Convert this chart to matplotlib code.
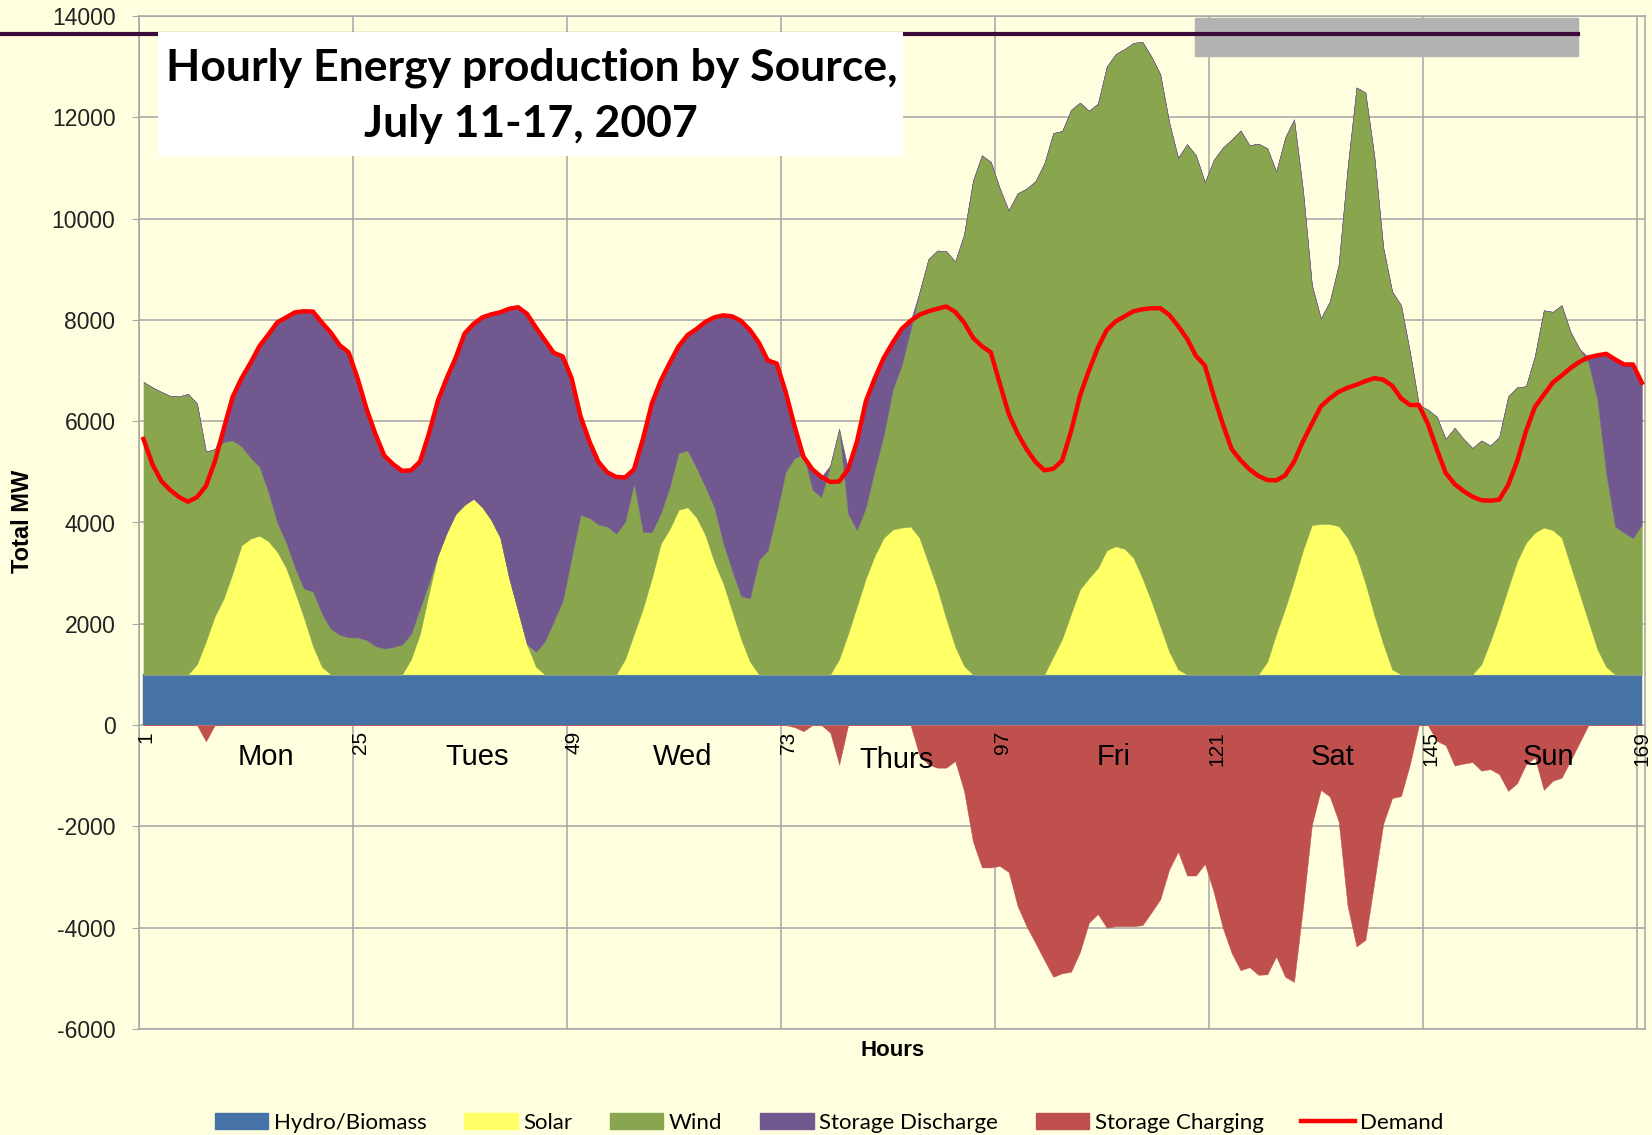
import matplotlib.pyplot as plt
from matplotlib.patches import Patch, Rectangle
from matplotlib.lines import Line2D

plt.rcParams['font.family'] = ['Liberation Sans', 'DejaVu Sans']
plt.rcParams['axes.unicode_minus'] = False

# hour index 1..169 (July 11-17, 2007)
hours = list(range(1, 170))

hydro = [1000] * 169

solar = [0, 0, 0, 0, 0, 0, 200, 650, 1150, 1500, 2000, 2550, 2680, 2740, 2630, 2420, 2100, 1620, 1115, 560, 150, 0, 0, 0,
         0, 0, 0, 0, 0, 0, 300, 800, 1600, 2350, 2800, 3170, 3350, 3470, 3300, 3050, 2700, 1900, 1250, 590, 150, 0, 0, 0,
         0, 0, 0, 0, 0, 0, 300, 800, 1300, 1900, 2580, 2870, 3250, 3300, 3100, 2750, 2220, 1800, 1250, 700, 250, 0, 0, 0,
         0, 0, 0, 0, 0, 0, 300, 800, 1350, 1900, 2350, 2700, 2860, 2900, 2920, 2700, 2200, 1700, 1100, 550, 170, 0, 0, 0,
         0, 0, 0, 0, 0, 0, 350, 700, 1200, 1680, 1900, 2100, 2450, 2530, 2480, 2300, 1900, 1450, 950, 450, 100, 0, 0, 0,
         0, 0, 0, 0, 0, 0, 250, 800, 1300, 1850, 2450, 2950, 2970, 2970, 2930, 2700, 2340, 1800, 1170, 600, 100, 0, 0, 0,
         0, 0, 0, 0, 0, 0, 200, 650, 1150, 1700, 2230, 2600, 2800, 2900, 2850, 2700, 2150, 1600, 1050, 500, 150, 0, 0, 0,
         0]

wind = [5775, 5670, 5580, 5500, 5490, 5540, 5150, 3750, 3300, 3090, 2620, 1950, 1600, 1360, 970, 580, 500, 480, 575, 1080, 1050, 900, 780, 732,
        730, 680, 560, 510, 540, 590, 500, 500, 200, 0, 0, 0, 0, 0, 0, 0, 0, 0, 0, 0, 300, 650, 1050, 1450,
        2300, 3150, 3090, 2960, 2920, 2780, 2710, 2970, 1510, 910, 600, 830, 1120, 1120, 980, 950, 1080, 800, 800, 850, 1250, 2260, 2450, 3200,
        4000, 4270, 4350, 3650, 3500, 4130, 4550, 2370, 1500, 1400, 1700, 2020, 2760, 3200, 3880, 4850, 6000, 6670, 7260, 7600, 8520, 9750, 10250, 10120,
        9600, 9160, 9500, 9590, 9740, 10090, 10340, 10030, 9950, 9610, 9230, 9170, 9550, 9720, 9870, 10170, 10590, 10750, 10900, 10450, 10100, 10470, 10250, 9720,
        10160, 10400, 10560, 10740, 10450, 10480, 10140, 9130, 9300, 9110, 7110, 4740, 4060, 4390, 5160, 7300, 9250, 9690, 9060, 7830, 7460, 7290, 6360, 5320,
        5230, 5090, 4650, 4870, 4650, 4470, 4420, 3870, 3540, 3790, 3440, 3090, 3490, 4290, 4310, 4590, 4610, 4830, 5110, 4930, 3810, 2920, 2800, 2690,
        2960]

discharge = [0, 0, 0, 0, 0, 0, 0, 0, 0, 260, 860, 1350, 1870, 2380, 3110, 3950, 4450, 5050, 5480, 5525, 5750, 5850, 5720, 5630,
             5120, 4570, 4190, 3810, 3610, 3430, 3230, 2900, 2950, 3050, 3050, 3080, 3380, 3450, 3750, 4060, 4450, 5320, 6000, 6530, 6400, 5950, 5300, 4830,
             3550, 1950, 1510, 1240, 1070, 1120, 880, 280, 1840, 2540, 2620, 2450, 2110, 2280, 2740, 3260, 3750, 4490, 5020, 5430, 5300, 4290, 3750, 2940,
             1580, 630, 0, 400, 400, 0, 0, 880, 1750, 2100, 1800, 1530, 930, 720, 180, 0, 0, 0, 0, 0, 0, 0, 0, 0,
             0, 0, 0, 0, 0, 0, 0, 0, 0, 0, 0, 0, 0, 0, 0, 0, 0, 0, 0, 0, 0, 0, 0, 0,
             0, 0, 0, 0, 0, 0, 0, 0, 0, 0, 0, 0, 0, 0, 0, 0, 0, 0, 0, 0, 0, 0, 0, 0,
             0, 0, 0, 0, 0, 0, 0, 0, 0, 0, 0, 0, 0, 0, 0, 0, 0, 0, 100, 870, 2370, 3300, 3320, 3430,
             2800]

charging = [0, 0, 0, 0, 0, 0, 0, -320, 0, 0, 0, 0, 0, 0, 0, 0, 0, 0, 0, 0, 0, 0, 0, 0,
            0, 0, 0, 0, 0, 0, 0, 0, 0, 0, 0, 0, 0, 0, 0, 0, 0, 0, 0, 0, 0, 0, 0, 0,
            0, 0, 0, 0, 0, 0, 0, 0, 0, 0, 0, 0, 0, 0, 0, 0, 0, 0, 0, 0, 0, 0, 0, 0,
            0, -40, -120, 0, 0, -150, -780, 0, 0, 0, 0, 0, 0, 0, 0, -600, -780, -840, -840, -710, -1300, -2300, -2810, -2810,
            -2780, -2900, -3570, -3970, -4300, -4640, -4970, -4900, -4870, -4480, -3900, -3730, -4000, -3970, -3970, -3970, -3950, -3700, -3440, -2850, -2500, -2970, -2970, -2740,
            -3300, -4000, -4500, -4840, -4780, -4930, -4920, -4570, -4970, -5070, -3600, -1970, -1280, -1410, -1900, -3570, -4370, -4240, -3100, -1950, -1440, -1400, -770, 0,
            0, -310, -400, -800, -760, -730, -900, -870, -970, -1300, -1150, -780, -640, -1280, -1100, -1040, -700, -350, 0, 0, 0, 0, 0, 0,
            0]

demand = [5650, 5150, 4820, 4640, 4500, 4410, 4500, 4720, 5200, 5850, 6480, 6850, 7150, 7480, 7710, 7950, 8050, 8150, 8170, 8165, 7950, 7750, 7500, 7360,
          6850, 6250, 5750, 5320, 5150, 5020, 5030, 5200, 5750, 6400, 6850, 7250, 7730, 7920, 8050, 8110, 8150, 8220, 8250, 8120, 7850, 7600, 7350, 7280,
          6850, 6100, 5600, 5200, 4990, 4900, 4890, 5050, 5650, 6350, 6800, 7150, 7480, 7700, 7820, 7960, 8050, 8090, 8070, 7980, 7800, 7550, 7200, 7140,
          6580, 5900, 5300, 5050, 4900, 4800, 4810, 5050, 5600, 6400, 6850, 7250, 7550, 7820, 7980, 8100, 8170, 8220, 8265, 8160, 7950, 7650, 7480, 7360,
          6750, 6150, 5760, 5450, 5200, 5030, 5060, 5220, 5800, 6500, 7000, 7450, 7800, 7970, 8070, 8170, 8210, 8230, 8230, 8100, 7880, 7630, 7290, 7100,
          6500, 5950, 5450, 5230, 5050, 4920, 4840, 4830, 4930, 5200, 5600, 5950, 6290, 6450, 6580, 6660, 6720, 6790, 6850, 6820, 6700, 6450, 6320, 6320,
          5950, 5450, 4980, 4760, 4620, 4510, 4440, 4430, 4450, 4740, 5200, 5800, 6280, 6520, 6760, 6900, 7050, 7170, 7260, 7300, 7330, 7220, 7120, 7120,
          6760]

hour_labels = [1, 25, 49, 73, 97, 121, 145, 169]
day_names = ['Mon', 'Tues', 'Wed', 'Thurs', 'Fri', 'Sat', 'Sun']
day_pos = [14.7, 38.4, 61.5, 85.4, 109.8, 134.3, 158.5]

colors = ['#4572A7', '#FFFF66', '#89A54E', '#71588F']
charge_color = '#C0504D'
bg = '#FFFFE0'

W, H = 1652, 1135
fig = plt.figure(figsize=(W / 100, H / 100), dpi=100)
fig.set_facecolor(bg)
ax = fig.add_axes([139 / W, 1 - 1029 / H, 1506 / W, 1013 / H])
ax.set_facecolor(bg)

ax.stackplot(hours, hydro, solar, wind, discharge, colors=colors, linewidth=0.3,
             edgecolor='face', zorder=2)
ax.fill_between(hours, charging, 0, color=charge_color, linewidth=0.3, zorder=2)
ax.plot(hours, demand, color='#FF0000', lw=3.2, zorder=3, solid_joinstyle='round')

ax.set_xlim(0.5, 169.35)
ax.set_ylim(-6000, 14000)
ax.set_yticks(range(-6000, 14001, 2000))
ax.set_xticks([h - 0.5 for h in hour_labels])
ax.set_xticklabels([])
ax.grid(True, color='#A6A6A6', lw=1.1, zorder=0)
ax.set_axisbelow(True)
ax.tick_params(axis='x', length=0)
ax.tick_params(axis='y', length=5, color='#A6A6A6', labelsize=16.5,
               labelcolor='#222222', pad=12)
for s in ax.spines.values():
    s.set_color('#A6A6A6')
    s.set_linewidth(1.1)

for h in hour_labels:
    ax.text(min(h + 0.3, 169.0), -120, str(h), rotation=90, ha='center', va='top',
            fontsize=15, color='black', zorder=4)
for name, x in zip(day_names, day_pos):
    ax.text(x, -680 if name == 'Thurs' else -620, name, ha='center', va='center',
            fontsize=21, color='black', zorder=4)

fig.text(23 / W, 1 - 521 / H, 'Total MW', rotation=90, ha='center', va='center',
         fontsize=17, fontweight='bold')
fig.text(893 / W, 1 - 1050 / H, 'Hours', ha='center', va='center',
         fontsize=16, fontweight='bold')

# slide decorations at the top
fig.add_artist(Rectangle((1195 / W, 1 - 56 / H), 383 / W, 38 / H,
                         transform=fig.transFigure, color='#B2B2B2', zorder=5))
fig.add_artist(Line2D([0, 1578 / W], [1 - 34 / H] * 2, transform=fig.transFigure,
                      color='#3B0B3B', lw=3, zorder=5))
fig.add_artist(Rectangle((158 / W, 1 - 156 / H), 745 / W, 124 / H,
                         transform=fig.transFigure, facecolor='white',
                         edgecolor='none', zorder=6))
fig.text(532 / W, 1 - 80 / H, 'Hourly Energy production by Source,', ha='center',
         va='baseline', fontsize=32, fontweight='bold', family='Lato', zorder=7)
fig.text(531 / W, 1 - 137 / H, 'July 11-17, 2007', ha='center', va='baseline',
         fontsize=32, fontweight='bold', family='Lato', zorder=7)

handles = [Patch(color=colors[0]), Patch(color=colors[1]), Patch(color=colors[2]),
           Patch(color=colors[3]), Patch(color=charge_color),
           Line2D([], [], color='#FF0000', lw=3.2)]
labels = ['Hydro/Biomass', 'Solar', 'Wind', 'Storage Discharge', 'Storage Charging', 'Demand']
fig.legend(handles, labels, loc='center', bbox_to_anchor=(0.502, 1 - 1123 / H), ncol=6,
           frameon=False, prop={'family': 'Lato', 'size': 16}, handlelength=2.4,
           handleheight=0.7, handletextpad=0.25, columnspacing=1.7)

fig.savefig('out.png', dpi=100, facecolor=bg)
